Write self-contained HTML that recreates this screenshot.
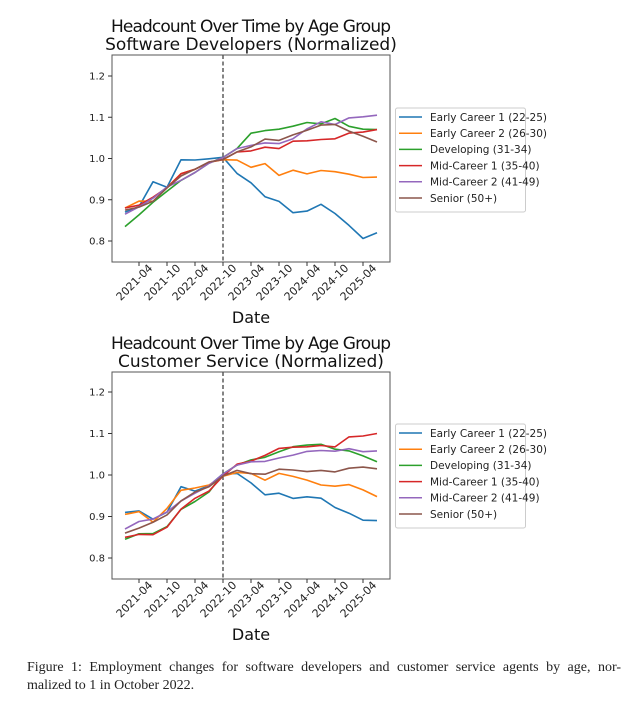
<!DOCTYPE html>
<html><head><meta charset="utf-8"><style>
html,body{margin:0;padding:0;background:#fff;}
svg text{font-family:"DejaVu Sans","Liberation Sans",sans-serif;}
.cap{position:absolute;left:27px;width:594px;font-family:"Liberation Serif",serif;font-size:14px;line-height:18px;color:#222;}
.l1{top:659px;text-align:justify;text-align-last:justify;}
.l2{top:677px;}
</style></head><body>
<svg id="s" width="639" height="712" xmlns="http://www.w3.org/2000/svg" style="position:absolute;left:0;top:0"></svg>
<div class="cap l1">Figure 1: Employment changes for software developers and customer service agents by age, nor-</div>
<div class="cap l2">malized to 1 in October 2022.</div>
<script>
(function(){
const S=document.getElementById('s');
let h='';
const cols=['#1f77b4','#ff7f0e','#2ca02c','#d62728','#9467bd','#8c564b'];
const names=['Early Career 1 (22-25)','Early Career 2 (26-30)','Developing (31-34)','Mid-Career 1 (35-40)','Mid-Career 2 (41-49)','Senior (50+)'];
const dTop=[
[0.87,0.88,0.94,0.93,1.0,1.0,1.0,1.0,0.96,0.94,0.91,0.90,0.87,0.87,0.885,0.865,0.84,0.81,0.82],
[0.88,0.90,0.90,0.93,0.96,0.97,0.99,1.0,1.0,0.98,0.985,0.955,0.97,0.965,0.975,0.97,0.96,0.95,0.955],
[0.835,0.86,0.89,0.92,0.95,0.97,0.99,1.0,1.02,1.06,1.07,1.075,1.08,1.085,1.08,1.095,1.08,1.075,1.07],
[0.88,0.89,0.91,0.93,0.96,0.97,0.99,1.0,1.02,1.02,1.025,1.02,1.04,1.045,1.05,1.05,1.06,1.06,1.07],
[0.865,0.88,0.90,0.93,0.95,0.97,0.99,1.0,1.02,1.03,1.04,1.04,1.05,1.07,1.085,1.08,1.10,1.105,1.105],
[0.875,0.885,0.90,0.93,0.955,0.97,0.99,1.0,1.02,1.03,1.045,1.04,1.055,1.07,1.085,1.085,1.065,1.05,1.04]];
const dBot=[
[0.91,0.91,0.89,0.91,0.975,0.965,0.975,1.0,1.0,0.98,0.955,0.96,0.945,0.945,0.94,0.92,0.91,0.895,0.89],
[0.905,0.915,0.89,0.92,0.96,0.965,0.975,1.0,1.01,1.005,0.985,1.0,0.995,0.99,0.98,0.975,0.975,0.96,0.948],
[0.845,0.855,0.855,0.875,0.92,0.94,0.96,1.0,1.02,1.035,1.045,1.06,1.07,1.07,1.07,1.06,1.06,1.05,1.032],
[0.85,0.86,0.86,0.875,0.915,0.94,0.96,1.0,1.03,1.035,1.045,1.06,1.065,1.07,1.075,1.07,1.09,1.09,1.10],
[0.87,0.885,0.89,0.91,0.94,0.96,0.975,1.0,1.02,1.03,1.035,1.045,1.05,1.055,1.055,1.055,1.065,1.06,1.058],
[0.86,0.875,0.89,0.905,0.935,0.955,0.97,1.0,1.015,1.005,1.0,1.01,1.01,1.01,1.015,1.01,1.015,1.015,1.015]];
const ticks=['2021-04','2021-10','2022-04','2022-10','2023-04','2023-10','2024-04','2024-10','2025-04'];
function panel(oy,y12,y08,data,t2,lgTop){
  const ax0=112,ax1=390,at=oy,ab=oy+207;
  const sc=(y08-y12)/0.4;
  const Y=v=>y08-(v-0.8)*sc;
  h+=`<text x="251" y="${oy-23}" font-size="17" text-anchor="middle" textLength="280" fill="#111">Headcount Over Time by Age Group</text>`;
  h+=`<text x="251" y="${oy-5}" font-size="17" text-anchor="middle" fill="#111">${t2}</text>`;
  h+=`<line x1="223" y1="${at}" x2="223" y2="${ab}" stroke="#333" stroke-width="1.2" stroke-dasharray="4,2.5"/>`;
  data.forEach((d,i)=>{
    let p=d.map((v,k)=>{const jit=(k>0&&k<18)?(Math.sin(k*7.3+i*3.1)*0.004):0;return (125+k*3*4.667).toFixed(1)+','+Y(v+jit).toFixed(1);}).join(' ');
    h+=`<polyline points="${p}" fill="none" stroke="${cols[i]}" stroke-width="1.6" stroke-linejoin="round"/>`;
  });
  h+=`<rect x="${ax0}" y="${at}" width="${ax1-ax0}" height="${ab-at}" fill="none" stroke="#555" stroke-width="1"/>`;
  [0.8,0.9,1.0,1.1,1.2].forEach(v=>{const y=Y(v);
    h+=`<line x1="${ax0-4}" y1="${y}" x2="${ax0}" y2="${y}" stroke="#333"/>`;
    h+=`<text x="${ax0-7}" y="${y+3.5}" font-size="10" text-anchor="end" fill="#222">${v.toFixed(1)}</text>`;});
  ticks.forEach((t,i)=>{const x=139+i*28;
    h+=`<line x1="${x}" y1="${ab}" x2="${x}" y2="${ab+4}" stroke="#333"/>`;
    h+=`<text transform="translate(${x-2},${ab+23}) rotate(-45)" font-size="11" text-anchor="middle" fill="#222">${t}</text>`;});
  h+=`<text x="251" y="${ab+61}" font-size="16" text-anchor="middle" fill="#111">Date</text>`;
  h+=`<rect x="395.5" y="${lgTop}" width="130" height="104" fill="#fff" stroke="#ccc" rx="2"/>`;
  names.forEach((n,i)=>{const y=lgTop+9+i*16.2;
    h+=`<line x1="399" y1="${y}" x2="422" y2="${y}" stroke="${cols[i]}" stroke-width="1.5"/>`;
    h+=`<text x="430" y="${y+3.8}" font-size="10.5" fill="#222">${n}</text>`;});
}
panel(55,76,241,dTop,'Software Developers (Normalized)',108);
panel(372,392,558,dBot,'Customer Service (Normalized)',424);
S.innerHTML=h;
})();
</script>
</body></html>
